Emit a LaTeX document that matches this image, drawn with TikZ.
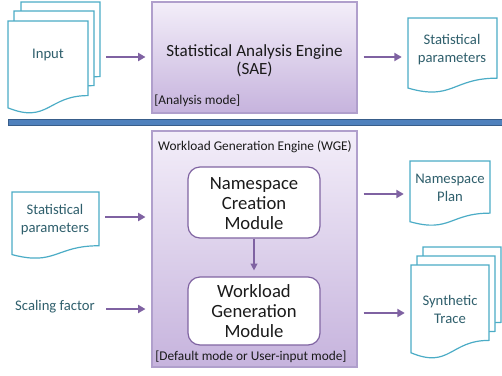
\documentclass[tikz,border=0pt]{standalone}
\usepackage{fontspec}
\setmainfont{Carlito}
\usetikzlibrary{arrows.meta,fit}
\definecolor{docline}{HTML}{4BACC6}
\definecolor{doctxt}{HTML}{2F5F6C}
\definecolor{arrcol}{HTML}{7F62A2}
\definecolor{engline}{HTML}{B09FCC}
\definecolor{engtop}{HTML}{F3EEF9}
\definecolor{engbot}{HTML}{C6B3DD}
\definecolor{modline}{HTML}{8064A2}
\definecolor{sepfill}{HTML}{4F81BD}
\definecolor{sepline}{HTML}{385D8A}
\definecolor{txtdark}{HTML}{1A1A1A}
\newcommand\docpath[4]{%
  \draw[docshape] (#1,#2) -- (#1+#3,#2) -- (#1+#3,#2+0.802*#4)
    .. controls (#1+0.5*#3,#2+0.802*#4) and (#1+0.5*#3,#2+1.107*#4) .. (#1,#2+0.934*#4) -- cycle;}
\begin{document}
\begin{tikzpicture}[x=0.75pt,y=-0.75pt,
  docshape/.style={draw=docline,fill=white,line width=0.9pt},
  doctext/.style={text=doctxt,font=\fontsize{11}{13.5}\selectfont,align=center,inner sep=0pt},
  arr/.style={draw=arrcol,line width=1.6pt,-{Triangle[length=5.5pt,width=6pt]},shorten <=6*0.75pt,shorten >=6*0.75pt},
  engine/.style={draw=engline,line width=0.8pt,top color=engtop,bottom color=engbot,inner sep=0pt},
  module/.style={draw=modline,line width=0.9pt,fill=white,rounded corners=9pt,inner sep=0pt,minimum width=132*0.75pt},
  modtext/.style={text=txtdark,font=\fontsize{14}{15}\selectfont,align=center,inner sep=0pt},
  smalltext/.style={text=txtdark,font=\fontsize{10}{12}\selectfont,inner sep=0pt},
  bound/.style={inner sep=0pt}]
\useasboundingbox (0,0) rectangle (502,375);

% ---- top row ----
\docpath{21}{2}{79}{93}
\docpath{14}{11}{80}{93}
\docpath{8}{21}{80}{93}
\node[bound,fit={(8,2) (100,108)}] (input) {};
\node[doctext] (inputtxt) at (48,55) {Input};

\node[engine,minimum width=205*0.75pt,minimum height=111*0.75pt] (sae) at (254.5,57.5) {};
\node[modtext,font=\fontsize{12.8}{13.5}\selectfont] (saetxt) at (254.5,61) {Statistical Analysis Engine\\(SAE)};
\node[smalltext,anchor=west] (saemode) at (154,100.5) {[Analysis mode]};

\docpath{408}{18}{89}{75}
\node[bound,fit={(408,18) (497,88)}] (stat1) {};
\node[doctext] (stat1txt) at (452,50) {Statistical\\parameters};

\draw[arr] (input.east |- 0,57) -- (sae.west |- 0,57);
\draw[arr] (sae.east |- 0,57) -- (stat1.west |- 0,57);

% ---- separator ----
\node[draw=sepline,fill=sepfill,line width=0.6pt,inner sep=0pt,minimum width=494*0.75pt,minimum height=6*0.75pt] (sep) at (255,122) {};

% ---- bottom row ----
\node[engine,minimum width=205*0.75pt,minimum height=236*0.75pt] (wge) at (254.5,249) {};
\node[smalltext] (wgetxt) at (255,147) {Workload Generation Engine (WGE)};
\node[smalltext,anchor=west] (wgemode) at (155,357) {[Default mode or User-input mode]};

\node[module,minimum height=71*0.75pt] (ncm) at (254,202.5) {};
\node[modtext] (ncmtxt) at (254,204) {Namespace\\Creation\\Module};
\node[module,minimum height=68*0.75pt] (wgm) at (254,311) {};
\node[modtext] (wgmtxt) at (254,311.5) {Workload\\Generation\\Module};
\draw[draw=arrcol,line width=1pt,-{Triangle[length=5pt,width=5pt]},shorten >=6*0.75pt] (ncm.south) -- (wgm.north);

\docpath{12}{192}{87}{67}
\node[bound,fit={(12,192) (99,254)}] (stat2) {};
\node[doctext] (stat2txt) at (55,219.5) {Statistical\\parameters};
\node[doctext] (scale) at (55,307) {Scaling factor};
\coordinate (scaleend) at (100,309);

\docpath{410}{161}{80}{65}
\node[bound,fit={(410,161) (490,222)}] (nsplan) {};
\node[doctext] (nsplantxt) at (450,188) {Namespace\\Plan};

\docpath{423}{247}{78}{94}
\docpath{417}{256}{78}{94}
\docpath{411}{265}{78}{94}
\node[bound,fit={(411,247) (501,353)}] (trace) {};
\node[doctext] (tracetxt) at (450,309) {Synthetic\\Trace};

\draw[arr] (stat2.east |- 0,217) -- (wge.west |- 0,217);
\draw[arr] (scaleend) -- (wge.west |- 0,309);
\draw[arr] (wge.east |- 0,194) -- (nsplan.west |- 0,194);
\draw[arr] (wge.east |- 0,313) -- (trace.west |- 0,313);
\end{tikzpicture}
\end{document}
